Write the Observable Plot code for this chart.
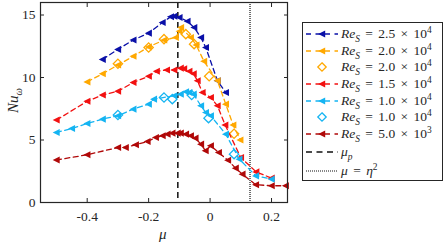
<!DOCTYPE html>
<html><head><meta charset="utf-8">
<script src="https://cdn.jsdelivr.net/npm/d3@7"></script>
<script src="https://cdn.jsdelivr.net/npm/@observablehq/plot@0.6"></script>
<style>
body{margin:0;background:#fff;}
#wrap{position:relative;width:445px;height:243px;font-family:"Liberation Serif","DejaVu Serif",serif;color:#262626;}
#wrap svg.plot{position:absolute;left:0;top:0;}
.lab{position:absolute;font-size:15px;font-style:italic;white-space:nowrap;line-height:17px;}
#legend{position:absolute;left:302px;top:22px;width:139px;height:157px;border:1px solid #262626;background:#fff;}
.row{position:absolute;left:0;height:16px;width:139px;}
.row svg{position:absolute;left:3px;top:2px;}
.row .t{position:absolute;left:38px;top:0;font-size:13.5px;line-height:16px;white-space:nowrap;}
.op{margin:0 2px;}
sub,sup{font-size:70%;line-height:0;}
</style></head><body><div id="wrap"></div>
<script>
// ---- data ----
const xTicks = [-0.4, -0.2, 0, 0.2];
const yTicks = [0, 5, 10, 15];
const muP = -0.105;      // mu_p
const muEta = 0.13;      // mu = eta^2

const blueMu = [-0.35,-0.30,-0.25,-0.20,-0.155,-0.128,-0.117,-0.10,-0.074,-0.052,-0.03,-0.014,0.024,0.051];
const blueNu = [11.45,12.25,13.0,13.55,14.4,14.86,14.9,14.8,14.5,14.0,13.2,12.4,9.74,8.8];

const orangeMu = [-0.40,-0.35,-0.30,-0.25,-0.20,-0.15,-0.112,-0.10,-0.095,-0.063,-0.045,-0.02,0.024,0.051,0.075,0.098];
const orangeNu = [9.65,10.3,11.0,11.7,12.45,13.0,13.2,13.7,14.0,13.2,12.6,11.3,9.74,7.87,6.2,5.0];

const orangeDMu = [-0.30,-0.20,-0.15,-0.079,-0.052,-0.003,0.078];
const orangeDNu = [11.1,12.4,13.07,13.47,12.67,10.1,5.5];

const redMu = [-0.50,-0.40,-0.35,-0.30,-0.25,-0.20,-0.174,-0.141,-0.117,-0.096,-0.085,-0.068,-0.054,-0.041,-0.025,0.002,0.024,0.049,0.10,0.15,0.20];
const redNu = [6.6,8.1,8.6,8.9,9.6,10.1,10.5,10.6,10.6,10.75,10.7,10.5,10.3,9.74,8.8,8.4,7.74,6.2,3.6,2.45,1.95];

const cyanMu = [-0.50,-0.45,-0.40,-0.35,-0.30,-0.25,-0.20,-0.183,-0.117,-0.096,-0.079,-0.068,-0.054,-0.03,-0.014,0.002,0.051,0.095,0.149,0.20];
const cyanNu = [5.6,5.92,6.32,6.67,6.94,7.47,7.87,8.27,8.54,8.67,8.86,8.8,8.67,7.74,7.2,6.94,5.47,3.47,2.13,1.87];

const cyanDMu = [-0.30,-0.15,-0.123,-0.06,-0.005,0.078];
const cyanDNu = [7.0,8.4,8.27,8.6,6.75,3.87];

const darkMu = [-0.50,-0.40,-0.30,-0.275,-0.242,-0.204,-0.177,-0.155,-0.139,-0.123,-0.106,-0.096,-0.079,-0.063,-0.048,-0.03,-0.015,0.002,0.028,0.058,0.083,0.105,0.149,0.20,0.246];
const darkNu = [3.4,3.82,4.4,4.4,4.62,4.88,5.2,5.34,5.47,5.55,5.55,5.55,5.47,5.34,5.15,4.67,4.14,4.54,4.0,3.38,2.75,2.27,1.42,1.34,1.34];

const legendRe = ["2.5","2.0","2.0","1.5","1.0","1.0","5.0"];
const legendExp = ["4","4","4","4","4","4","3"];

// ---- styling ----
const C = {blue:"#0a10a8", orange:"#ffa800", red:"#f21010", cyan:"#14b4f2", dark:"#b00808"};
const leftTri = {draw(ctx, size){ const s = Math.sqrt(size/Math.PI); ctx.moveTo(-s*1.0,0); ctx.lineTo(s*0.85,-s*0.95); ctx.lineTo(s*0.85,s*0.95); ctx.closePath(); }};
const series = [
  {mu:blueMu, nu:blueNu, color:C.blue, kind:"tri"},
  {mu:orangeMu, nu:orangeNu, color:C.orange, kind:"tri"},
  {mu:orangeDMu, nu:orangeDNu, color:C.orange, kind:"dia"},
  {mu:redMu, nu:redNu, color:C.red, kind:"tri"},
  {mu:cyanMu, nu:cyanNu, color:C.cyan, kind:"tri"},
  {mu:cyanDMu, nu:cyanDNu, color:C.cyan, kind:"dia"},
  {mu:darkMu, nu:darkNu, color:C.dark, kind:"tri"}
];
const marks = [
  Plot.ruleX([muP], {stroke:"#111", strokeWidth:1.5, strokeDasharray:"6,4"}),
  Plot.ruleX([muEta], {stroke:"#111", strokeWidth:1.2, strokeDasharray:"1,1"})
];
for (const s of series) {
  const rows = s.mu.map((m,i)=>({mu:m, nu:s.nu[i]}));
  if (s.kind === "tri") {
    marks.push(Plot.line(rows, {x:"mu", y:"nu", stroke:s.color, strokeWidth:1.3, strokeDasharray:"5,3.5"}));
    marks.push(Plot.dot(rows, {x:"mu", y:"nu", symbol:leftTri, r:3.8, fill:s.color, stroke:"none"}));
  } else {
    marks.push(Plot.dot(rows, {x:"mu", y:"nu", symbol:"diamond2", r:4.2, fill:"none", stroke:s.color, strokeWidth:1.3}));
  }
}
const fmtX = d => d === 0 ? "0" : d.toFixed(1);
marks.push(
  Plot.frame({stroke:"#262626", strokeWidth:1.2}),
  Plot.axisX(xTicks, {anchor:"bottom", tickSize:-4, tickPadding:13, tickFormat:fmtX, label:null, stroke:"#262626"}),
  Plot.axisX(xTicks, {anchor:"top", tickSize:-4, tickFormat:()=>"", label:null, stroke:"#262626"}),
  Plot.axisY(yTicks, {anchor:"left", tickSize:-4, tickPadding:9, label:null, stroke:"#262626"}),
  Plot.axisY(yTicks, {anchor:"right", tickSize:-4, tickFormat:()=>"", label:null, stroke:"#262626"})
);
const chart = Plot.plot({
  width:445, height:243,
  marginLeft:40, marginRight:158, marginTop:2, marginBottom:41,
  x:{domain:[-0.552, 0.252]},
  y:{domain:[0, 16]},
  style:{fontFamily:"'Liberation Serif', 'DejaVu Serif', serif", fontSize:"13.5px", color:"#262626", background:"transparent"},
  marks
});
chart.classList.add("plot");
const wrap = document.getElementById("wrap");
wrap.appendChild(chart);

// axis labels
const xl = document.createElement("div");
xl.className = "lab"; xl.textContent = "μ";
xl.style.left = "159px"; xl.style.top = "226px";
wrap.appendChild(xl);
const yl = document.createElement("div");
yl.className = "lab";
yl.innerHTML = "Nu<sub>ω</sub>";
wrap.appendChild(yl);
{
  const w = yl.offsetWidth, h = yl.offsetHeight;
  yl.style.left = (13 - w/2) + "px";
  yl.style.top = (100 - h/2) + "px";
  yl.style.transformOrigin = "50% 50%";
  yl.style.transform = "rotate(-90deg)";
}

// legend
const lg = document.createElement("div"); lg.id = "legend"; wrap.appendChild(lg);
const rowTops = [3, 19.7, 36.3, 53, 69.7, 86.3, 103, 121, 140];
function sample(kind, color) {
  const w = 32, h = 12, cy = 6, cx = 16;
  let s = `<svg width="${w}" height="${h}">`;
  if (kind === "tri") {
    s += `<line x1="0" y1="${cy}" x2="${w}" y2="${cy}" stroke="${color}" stroke-width="1.3" stroke-dasharray="5,4.5"/>`;
    s += `<path d="M${cx-3.8},${cy} L${cx+3.2},${cy-3.6} L${cx+3.2},${cy+3.6} Z" fill="${color}"/>`;
  } else if (kind === "dia") {
    s += `<path d="M${cx},${cy-4.2} L${cx+4.2},${cy} L${cx},${cy+4.2} L${cx-4.2},${cy} Z" fill="none" stroke="${color}" stroke-width="1.3"/>`;
  } else if (kind === "mup") {
    s += `<line x1="0" y1="${cy}" x2="${w}" y2="${cy}" stroke="#111" stroke-width="1.5" stroke-dasharray="6,4.5"/>`;
  } else {
    s += `<line x1="0" y1="${cy}" x2="${w}" y2="${cy}" stroke="#111" stroke-width="1.1" stroke-dasharray="1,1"/>`;
  }
  return s + `</svg>`;
}
series.forEach((s, i) => {
  const r = document.createElement("div"); r.className = "row"; r.style.top = rowTops[i] + "px";
  r.innerHTML = sample(s.kind, s.color) + `<span class="t"><i>Re<sub>S</sub></i><span class="op"> = </span>${legendRe[i]}<span class="op"> × </span>10<sup>${legendExp[i]}</sup></span>`;
  lg.appendChild(r);
});
[["mup", "<i>μ<sub>p</sub></i>"], ["eta", "<i>μ</i><span class=\"op\"> = </span><i>η</i><sup>2</sup>"]].forEach(([k, html], j) => {
  const r = document.createElement("div"); r.className = "row"; r.style.top = rowTops[7 + j] + "px";
  r.innerHTML = sample(k) + `<span class="t">${html}</span>`;
  lg.appendChild(r);
});
</script>
</body></html>
